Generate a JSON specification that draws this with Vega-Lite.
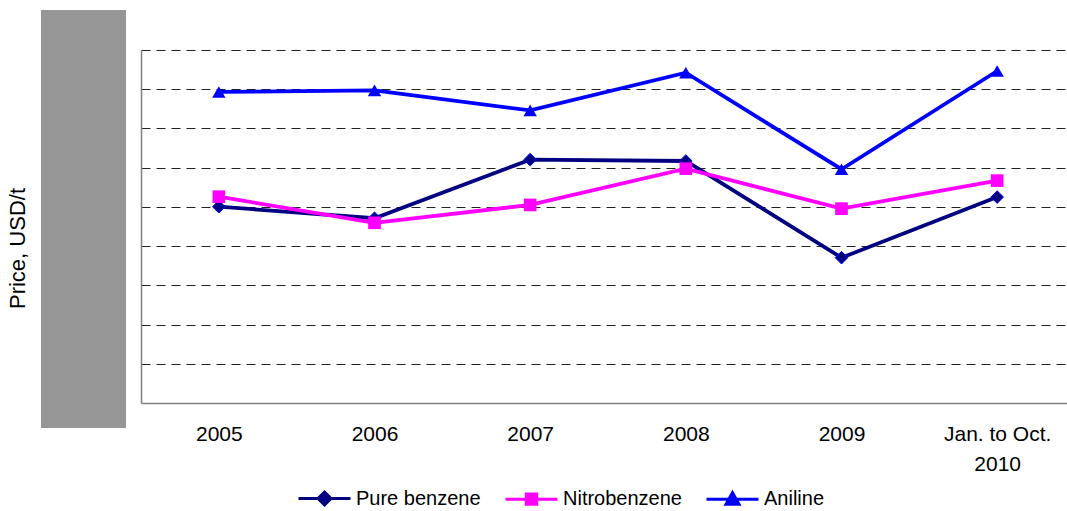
{
  "$schema": "https://vega.github.io/schema/vega-lite/v6.json",
  "padding": {"left": 6, "top": 10, "right": 0, "bottom": 0},
  "config": {
    "font": "Liberation Sans",
    "view": {"stroke": null},
    "axis": {"labelColor": "#000000", "titleColor": "#000000", "titleFontWeight": "normal"},
    "legend": {"labelColor": "#000000", "labelFontSize": 20, "symbolSize": 2704, "symbolStrokeWidth": 3, "labelOffset": 4, "columnPadding": 18, "padding": 0}
  },
  "data": {
    "values": [
      {"period": "2005", "series": "Pure benzene", "price": 1001},
      {"period": "2006", "series": "Pure benzene", "price": 942},
      {"period": "2007", "series": "Pure benzene", "price": 1241},
      {"period": "2008", "series": "Pure benzene", "price": 1234},
      {"period": "2009", "series": "Pure benzene", "price": 741},
      {"period": "Jan. to Oct. 2010", "series": "Pure benzene", "price": 1050},
      {"period": "2005", "series": "Nitrobenzene", "price": 1052},
      {"period": "2006", "series": "Nitrobenzene", "price": 919},
      {"period": "2007", "series": "Nitrobenzene", "price": 1010},
      {"period": "2008", "series": "Nitrobenzene", "price": 1195},
      {"period": "2009", "series": "Nitrobenzene", "price": 991},
      {"period": "Jan. to Oct. 2010", "series": "Nitrobenzene", "price": 1134},
      {"period": "2005", "series": "Aniline", "price": 1586},
      {"period": "2006", "series": "Aniline", "price": 1594},
      {"period": "2007", "series": "Aniline", "price": 1492},
      {"period": "2008", "series": "Aniline", "price": 1684},
      {"period": "2009", "series": "Aniline", "price": 1192},
      {"period": "Jan. to Oct. 2010", "series": "Aniline", "price": 1693}
    ]
  },
  "spacing": 15,
  "resolve": {"scale": {"y": "independent", "x": "independent"}},
  "hconcat": [
    {
      "width": 85,
      "height": 353,
      "mark": {"type": "rect", "color": "#969696", "clip": false},
      "encoding": {
        "y": {
          "datum": 2000,
          "type": "quantitative",
          "scale": {"domain": [0, 1800], "nice": false},
          "axis": {
            "title": "Price, USD/t",
            "labels": false,
            "ticks": false,
            "domain": false,
            "grid": false,
            "titleFontSize": 22,
            "titlePadding": 12,
            "titleY": 198
          }
        },
        "y2": {"datum": -127.5}
      }
    },
    {
      "width": 934,
      "height": 353,
      "encoding": {
        "x": {
          "field": "period",
          "type": "nominal",
          "sort": null,
          "scale": {"type": "point", "padding": 0.5},
          "axis": {
            "title": null,
            "labelAngle": 0,
            "labelFontSize": 21,
            "labelPadding": 20,
            "labelLineHeight": 30,
            "labelExpr": "datum.value == 'Jan. to Oct. 2010' ? ['Jan. to Oct.', '2010'] : datum.value",
            "ticks": false,
            "grid": false,
            "domainColor": "#808080",
            "domainWidth": 1.5
          }
        },
        "y": {
          "field": "price",
          "type": "quantitative",
          "scale": {"domain": [0, 1800], "nice": false},
          "axis": {
            "title": null,
            "labels": false,
            "ticks": false,
            "values": [200, 400, 600, 800, 1000, 1200, 1400, 1600, 1800],
            "grid": true,
            "gridDash": [9, 6],
            "gridColor": "#222222",
            "gridWidth": 1,
            "domainColor": "#808080",
            "domainWidth": 1.5
          }
        },
        "color": {
          "field": "series",
          "type": "nominal",
          "scale": {"domain": ["Pure benzene", "Nitrobenzene", "Aniline"], "range": ["#000080", "#FF00FF", "#0000FF"]},
          "legend": {"title": null, "orient": "none", "direction": "horizontal", "legendX": 256, "legendY": 421, "symbolSize": 2704, "symbolStrokeWidth": 3}
        }
      },
      "layer": [
        {
          "mark": {"type": "line", "strokeWidth": 3.8}
        },
        {
          "transform": [{"filter": "datum.series == 'Pure benzene'"}],
          "mark": {"type": "point", "shape": "diamond", "filled": true, "opacity": 1, "size": 160, "stroke": "#0000FF", "strokeWidth": 1}
        },
        {
          "transform": [{"filter": "datum.series == 'Nitrobenzene'"}],
          "mark": {"type": "point", "shape": "square", "filled": true, "opacity": 1, "size": 160}
        },
        {
          "transform": [{"filter": "datum.series == 'Aniline'"}],
          "mark": {"type": "point", "shape": "triangle-up", "filled": true, "opacity": 1, "size": 180}
        },
        {
          "transform": [{"filter": "datum.price < 0"}],
          "mark": {"type": "point", "filled": true, "strokeWidth": 3},
          "encoding": {
            "stroke": {
              "field": "series",
              "type": "nominal",
              "scale": {"domain": ["Pure benzene", "Nitrobenzene", "Aniline"], "range": ["#000080", "#FF00FF", "#0000FF"]},
              "legend": {"title": null, "orient": "none", "direction": "horizontal", "legendX": 256, "legendY": 421, "symbolSize": 2704, "symbolStrokeWidth": 3}
            },
            "shape": {
              "field": "series",
              "type": "nominal",
              "scale": {
                "domain": ["Pure benzene", "Nitrobenzene", "Aniline"],
                "range": [
                  "M-1,0L1,0M0,-0.25L0.25,0L0,0.25L-0.25,0Z",
                  "M-1,0L1,0M-0.2,-0.2L0.2,-0.2L0.2,0.2L-0.2,0.2Z",
                  "M-1,0L1,0M0,-0.25L0.25,0.2L-0.25,0.2Z"
                ]
              },
              "legend": {"title": null, "orient": "none", "direction": "horizontal", "legendX": 256, "legendY": 421, "symbolSize": 2704, "symbolStrokeWidth": 3}
            }
          }
        }
      ]
    }
  ]
}
